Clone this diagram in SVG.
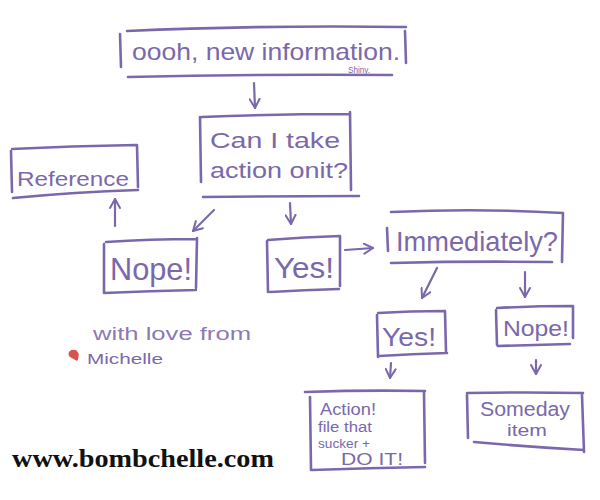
<svg xmlns="http://www.w3.org/2000/svg" width="600" height="500" viewBox="0 0 600 500">
<defs>
<marker id="ah" viewBox="0 0 12 12" refX="10" refY="6" markerWidth="12" markerHeight="12" markerUnits="userSpaceOnUse" orient="auto">
<path d="M1,1 L10,6 L1,11" fill="none" stroke="#7a68ab" stroke-width="2" stroke-linecap="round" stroke-linejoin="round"/>
</marker>
</defs>
<style>
.b{fill:none;stroke:#7a68ab;stroke-width:2.6;stroke-linecap:round}
.c{fill:none;stroke:#7a68ab;stroke-width:2.2;stroke-linecap:round;marker-end:url(#ah)}
.t{font-family:"Liberation Sans",Arial,sans-serif;fill:#7a68ab}
</style>
<rect width="600" height="500" fill="#ffffff"/>
<g id="top">
<path class="b" d="M127,31 Q260,25 406,27 M120,34 L121,67 M405,31 L406,63 M128,77 Q260,74 392,75"/>
<text class="t" x="132" y="60" font-size="24" textLength="268" lengthAdjust="spacingAndGlyphs">oooh, new information.</text>
<text class="t" x="348" y="72.5" font-size="8.5" textLength="22" lengthAdjust="spacingAndGlyphs">Shiny.</text>
</g>
<g id="canI">
<path class="b" d="M202,117 Q275,114 349,114 M200,117 L201,182 M350,112 L351,190 M203,197 Q280,196 359,196"/>
<text class="t" x="210" y="148" font-size="22" textLength="130" lengthAdjust="spacingAndGlyphs">Can I take</text>
<text class="t" x="210" y="178" font-size="22" textLength="138" lengthAdjust="spacingAndGlyphs">action onit?</text>
</g>
<g id="reference">
<path class="b" d="M12,149 Q70,146 136,145 M11,151 L12,192 M137,145 L138,187 M13,198 Q75,192 138,190"/>
<text class="t" x="17" y="186" font-size="21" textLength="112" lengthAdjust="spacingAndGlyphs">Reference</text>
</g>
<g id="nope1">
<path class="b" d="M106,242 Q150,239 196,239 M104,244 L104,293 M197,238 L196,288 M104,293 Q150,291 196,290"/>
<text class="t" x="110" y="280" font-size="32" textLength="82" lengthAdjust="spacingAndGlyphs">Nope!</text>
</g>
<g id="yes1">
<path class="b" d="M268,240 Q305,237 340,236 M267,241 L268,292 M340,236 L340,286 M270,292 Q305,290 339,289"/>
<text class="t" x="274" y="278" font-size="30" textLength="60" lengthAdjust="spacingAndGlyphs">Yes!</text>
</g>
<g id="immediately">
<path class="b" d="M391,212 Q480,208 563,213 M387,228 L388,251 M563,213 L562,262 M391,263 Q470,261 552,262"/>
<text class="t" x="396" y="251" font-size="28" textLength="162" lengthAdjust="spacingAndGlyphs">Immediately?</text>
</g>
<g id="yes2">
<path class="b" d="M378,313 Q410,311 444,311 M377,315 L378,357 M445,311 L446,352 M379,356 Q412,354 447,353"/>
<text class="t" x="382" y="346" font-size="26" textLength="54" lengthAdjust="spacingAndGlyphs">Yes!</text>
</g>
<g id="nope2">
<path class="b" d="M497,308 Q535,306 572,306 M496,310 L497,345 M573,306 L573,338 M498,346 Q535,345 570,344"/>
<text class="t" x="503" y="336" font-size="22" textLength="66" lengthAdjust="spacingAndGlyphs">Nope!</text>
</g>
<g id="action">
<path class="b" d="M305,392 Q365,390 425,391 M310,397 L311,470 M424,392 L425,463 M312,470 Q370,468 425,467"/>
<text class="t" x="320" y="415" font-size="17" textLength="56" lengthAdjust="spacingAndGlyphs">Action!</text>
<text class="t" x="318" y="432" font-size="14" textLength="54" lengthAdjust="spacingAndGlyphs">file that</text>
<text class="t" x="318" y="448" font-size="13" textLength="52" lengthAdjust="spacingAndGlyphs">sucker +</text>
<text class="t" x="341" y="465" font-size="16" textLength="62" lengthAdjust="spacingAndGlyphs">DO IT!</text>
</g>
<g id="someday">
<path class="b" d="M467,393 Q525,392 583,393 M467,395 L468,438 M582,395 L584,452 M474,442 Q530,447 584,450"/>
<text class="t" x="480" y="416" font-size="20" textLength="90" lengthAdjust="spacingAndGlyphs">Someday</text>
<text class="t" x="507" y="436" font-size="17" textLength="40" lengthAdjust="spacingAndGlyphs">item</text>
</g>
<g id="connectors">
<path class="c" d="M254,83 L255,108"/>
<path class="c" d="M115,226 L115,199"/>
<path class="c" d="M214,210 L193,231"/>
<path class="c" d="M290,203 L291,224"/>
<path class="c" d="M345,250 L373,248"/>
<path class="c" d="M437,268 L422,298"/>
<path class="c" d="M525,272 L525,297"/>
<path class="c" d="M391,363 L390,378"/>
<path class="c" d="M536,360 L536,374"/>
</g>
<g id="signature">
<text class="t" x="93" y="340" font-size="18" textLength="158" lengthAdjust="spacingAndGlyphs" fill-opacity="0.9">with love from</text>
<text class="t" x="87" y="364" font-size="15" textLength="76" lengthAdjust="spacingAndGlyphs">Michelle</text>
<path d="M76,351 C71,349 68,353 70,356 L77,360 C78,356 79,354 76,351 Z" fill="#d9534f" stroke="#d9534f" stroke-width="1.5" stroke-linejoin="round"/>
</g>
<text x="12" y="467" font-family="'Liberation Serif',serif" font-weight="bold" font-size="26" fill="#111111" textLength="262" lengthAdjust="spacingAndGlyphs">www.bombchelle.com</text>
</svg>
